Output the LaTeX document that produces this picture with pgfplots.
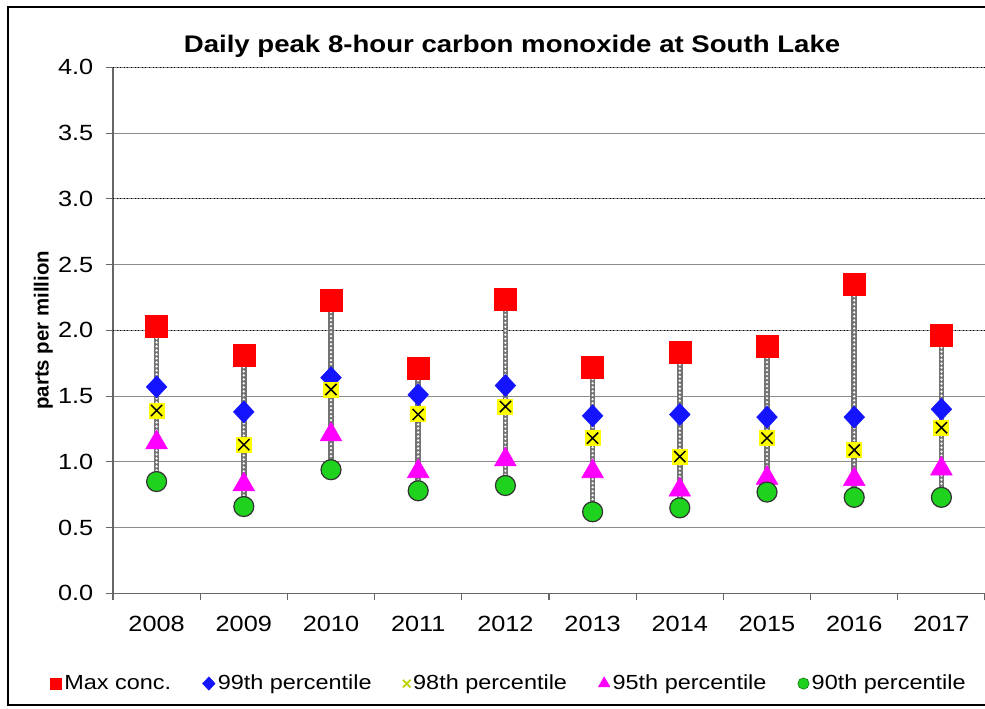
\documentclass[border=0pt]{standalone}
\usepackage{fontspec}
\setmainfont{Liberation Sans}[FakeStretch=1.15]
\newfontfamily\plainsans{Liberation Sans}
\usepackage{pgfplots}
\usepackage{pgfplotstable}
\pgfplotsset{compat=1.18}
\definecolor{mred}{RGB}{255,0,0}
\definecolor{mblue}{RGB}{20,20,255}
\definecolor{myel}{RGB}{255,255,0}
\definecolor{xgreen}{RGB}{190,210,0}
\definecolor{mmag}{RGB}{255,0,255}
\definecolor{mgreen}{RGB}{30,210,30}

\pgfdeclareplotmark{yellowx}{%
  \pgfpathrectangle{\pgfqpoint{-\pgfplotmarksize}{-\pgfplotmarksize}}{\pgfqpoint{2\pgfplotmarksize}{2\pgfplotmarksize}}%
  \pgfsetfillcolor{myel}\pgfusepath{fill}%
  \pgfpathmoveto{\pgfqpoint{-.7\pgfplotmarksize}{-.7\pgfplotmarksize}}%
  \pgfpathlineto{\pgfqpoint{.7\pgfplotmarksize}{.7\pgfplotmarksize}}%
  \pgfpathmoveto{\pgfqpoint{-.7\pgfplotmarksize}{.7\pgfplotmarksize}}%
  \pgfpathlineto{\pgfqpoint{.7\pgfplotmarksize}{-.7\pgfplotmarksize}}%
  \pgfsetstrokecolor{black}\pgfsetlinewidth{1.1pt}\pgfusepath{stroke}}

\pgfplotstableread{
x  max   p99   p98   p95   p90
0  2.03  1.57  1.39  1.17  0.85
1  1.81  1.38  1.13  0.85  0.66
2  2.23  1.64  1.55  1.23  0.94
3  1.71  1.51  1.36  0.95  0.78
4  2.24  1.58  1.42  1.04  0.82
5  1.72  1.35  1.18  0.95  0.62
6  1.83  1.36  1.04  0.81  0.65
7  1.88  1.34  1.18  0.90  0.77
8  2.35  1.34  1.09  0.89  0.73
9  1.96  1.40  1.26  0.97  0.73
}\data

\begin{document}
\begin{tikzpicture}[x=0.75pt,y=0.75pt]
\draw[line width=1.5pt] (1000,701) -- (8,701) -- (8,3) -- (1000,3);
\begin{axis}[
  at={(84.75pt,86pt)}, anchor=south west, scale only axis,
  width=654pt, height=394.5pt,
  xmin=-0.5, xmax=9.5, ymin=0, ymax=4,
  clip=false,
  axis x line*=bottom, axis y line*=left,
  axis line style={black!60, line width=0.8pt},
  xtick={0,...,9}, xticklabels={2008,2009,2010,2011,2012,2013,2014,2015,2016,2017},
  major x tick style={draw=none},
  minor xtick={-0.5,0.5,...,9.5},
  minor x tick style={black!60, line width=0.8pt},
  tick align=outside, major tick length=5.25pt, minor tick length=5.25pt,
  ytick={0,0.5,...,4},
  ytick style={black!60, line width=0.8pt},
  ymajorgrids, grid style={black!45, line width=0.7pt},
  extra y ticks={2,3,4}, extra y tick labels={},
  extra y tick style={grid style={black, dotted, line width=0.9pt}},
  /pgf/number format/assume math mode=true,
  tick label style={font=\fontsize{16.5}{19}\selectfont},
  yticklabel style={xshift=-6pt, /pgf/number format/.cd, fixed, fixed zerofill, precision=1},
  xticklabel style={yshift=-8pt},
  ylabel={\plainsans\bfseries parts per million},
  ylabel style={font=\fontsize{15.3}{18}\selectfont, at={(axis description cs:-0.08,0.5)}, anchor=center},
  title={\bfseries Daily peak 8-hour carbon monoxide at South Lake},
  title style={font=\fontsize{18}{21}\selectfont, at={(axis description cs:0.4576,1.025)}, anchor=center},
  legend columns=5,
  legend style={draw=none, fill=none, at={(axis description cs:-0.072,-0.1715)}, anchor=west,
    font=\fontsize{15.3}{18}\selectfont, inner sep=0pt,
    /tikz/every even column/.append style={column sep=21.5pt},
    /tikz/every odd column/.append style={column sep=0pt}},
  legend image code/.code={\draw[#1] plot coordinates {(0pt,0pt)};},
]
\addplot[forget plot, black!55, line width=4.2pt, unbounded coords=jump] coordinates {
(0,2.03) (0,0.85) (0,nan) (1,1.81) (1,0.66) (1,nan) (2,2.23) (2,0.94) (2,nan)
(3,1.71) (3,0.78) (3,nan) (4,2.24) (4,0.82) (4,nan) (5,1.72) (5,0.62) (5,nan)
(6,1.83) (6,0.65) (6,nan) (7,1.88) (7,0.77) (7,nan) (8,2.35) (8,0.73) (8,nan)
(9,1.96) (9,0.73)};
\addplot[forget plot, white, line width=1.9pt, line cap=round, dash pattern=on 0pt off 3pt, unbounded coords=jump] coordinates {
(0,2.03) (0,0.85) (0,nan) (1,1.81) (1,0.66) (1,nan) (2,2.23) (2,0.94) (2,nan)
(3,1.71) (3,0.78) (3,nan) (4,2.24) (4,0.82) (4,nan) (5,1.72) (5,0.62) (5,nan)
(6,1.83) (6,0.65) (6,nan) (7,1.88) (7,0.77) (7,nan) (8,2.35) (8,0.73) (8,nan)
(9,1.96) (9,0.73)};
\addplot[only marks, mark=square*, mark size=8.25pt, mark options={fill=mred, draw=mred},
  legend image post style={mark size=4.2pt}] table[x=x, y=max]{\data};
\addlegendentry{Max conc.}
\addplot[only marks, mark=diamond*, mark size=8.25pt, mark options={fill=mblue, draw=mblue, xscale=1.25},
  legend image post style={mark size=5pt}] table[x=x, y=p99]{\data};
\addlegendentry{99th percentile}
\addplot[only marks, mark=yellowx, mark size=6pt,
  legend image post style={mark=x, mark size=4pt, mark options={draw=xgreen, line width=1.3pt}}] table[x=x, y=p98]{\data};
\addlegendentry{98th percentile}
\addplot[only marks, mark=triangle*, mark size=9.4pt, mark options={fill=mmag, draw=mmag, yshift=-2.3pt},
  legend image post style={mark size=5pt, mark options={fill=mmag, draw=mmag}}] table[x=x, y=p95]{\data};
\addlegendentry{95th percentile}
\addplot[only marks, mark=*, mark size=7.5pt, mark options={fill=mgreen, draw=black!80, line width=0.9pt},
  legend image post style={mark size=4.2pt, mark options={fill=mgreen, draw=mgreen!60!black, line width=0.5pt}}] table[x=x, y=p90]{\data};
\addlegendentry{90th percentile}
\end{axis}
\pgfresetboundingbox
\path[use as bounding box] (0,0) rectangle (985,708);
\end{tikzpicture}
\end{document}
